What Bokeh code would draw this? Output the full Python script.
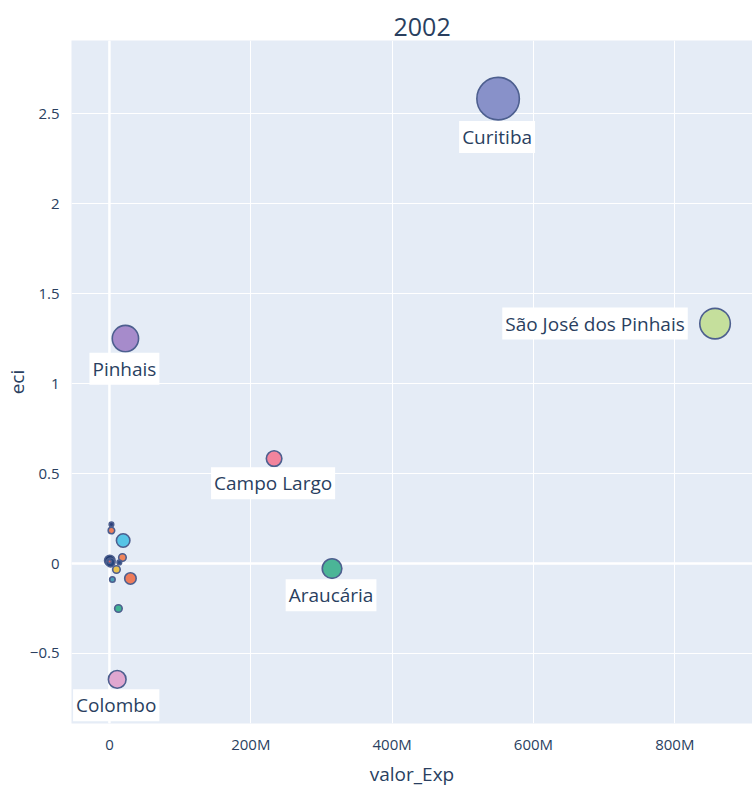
import math
from bokeh.plotting import figure
from bokeh.models import Range1d, FixedTicker, Span, Label, ColumnDataSource, Title
from bokeh.embed import file_html
from bokeh.resources import INLINE

# ---- data ----
municipios = ["Curitiba", "São José dos Pinhais", "Pinhais", "Araucária", "Colombo",
              "Campo Largo", "Almirante Tamandaré", "Fazenda Rio Grande", "Piraquara",
              "Quatro Barras", "Campina Grande do Sul", "Rio Branco do Sul", "Mandirituba",
              "Balsa Nova", "Contenda", "Bocaiúva do Sul", "Itaperuçu", "Lapa"]
valor_exp = [550e6, 857e6, 22.6e6, 315e6, 11e6,
             233e6, 19.4e6, 29.7e6, 0.5e6,
             18.4e6, 1.5e6, 9.9e6, 12.7e6,
             2.8e6, 4.2e6, 2.8e6, 0.3e6, 14e6]
eci = [2.583, 1.333, 1.25, -0.028, -0.644,
       0.583, 0.128, -0.083, 0.017,
       0.033, 0.006, -0.033, -0.25,
       0.183, -0.089, 0.217, 0.011, 0.006]
tamanho = [100, 53, 40, 23, 19,
           15, 11.6, 8.7, 7.4,
           4.2, 5.5, 4.2, 4.2,
           3.3, 2.5, 1.9, 1.3, 1.9]
cores = ["#8891c9", "#c5df9c", "#a68bcb", "#4bb597", "#e0a7d0",
         "#f2849d", "#56c4e6", "#ee7b5a", "#1f3a6e",
         "#ef855c", "#26457d", "#e8c24f", "#3fb394",
         "#ef7f5a", "#4a9fb5", "#2d3f7a", "#e06060", "#2b4b86"]
rotulos = ["Curitiba", "São José dos Pinhais", "Pinhais", "Araucária", "Colombo", "Campo Largo"]

x_ticks = [0, 200e6, 400e6, 600e6, 800e6]
x_tick_labels = ["0", "200M", "400M", "600M", "800M"]
y_ticks = [-0.5, 0, 0.5, 1, 1.5, 2, 2.5]
y_tick_labels = ["\u22120.5", "0", "0.5", "1", "1.5", "2", "2.5"]
titulo = "2002"

# ---- figure ----
FONT = "Open Sans"
TXT = "#2a3f5f"
MAX_D = 44.0
diam = [MAX_D * math.sqrt(t / max(tamanho)) - 1.5 for t in tamanho]

p = figure(width=752, height=789, output_backend="svg", toolbar_location=None,
           x_range=Range1d(-53.7e6, 910e6), y_range=Range1d(-0.889, 2.906),
           min_border_left=70, min_border_right=0, min_border_top=40, min_border_bottom=66)
p.background_fill_color = "#e5ecf6"
p.border_fill_color = "white"
p.outline_line_color = None

p.title = Title(text=titulo, align="left", offset=322, text_font=FONT, text_font_size="25px",
                text_color=TXT, text_font_style="normal")

for ax in (p.xaxis[0], p.yaxis[0]):
    ax.axis_line_color = None
    ax.major_tick_line_color = None
    ax.minor_tick_line_color = None
    ax.major_tick_out = 0
    ax.major_tick_in = 0
    ax.minor_tick_out = 0
    ax.minor_tick_in = 0
    ax.major_label_text_font = FONT
    ax.major_label_text_font_size = "15px"
    ax.major_label_text_color = TXT
    ax.axis_label_text_font = FONT
    ax.axis_label_text_font_size = "19px"
    ax.axis_label_text_color = TXT
    ax.axis_label_text_font_style = "normal"

p.xaxis.ticker = FixedTicker(ticks=x_ticks)
p.xaxis.major_label_overrides = {t: l for t, l in zip(x_ticks, x_tick_labels)}
p.yaxis.ticker = FixedTicker(ticks=y_ticks)
p.yaxis.major_label_overrides = {t: l for t, l in zip(y_ticks, y_tick_labels)}
p.xaxis.axis_label = "valor_Exp"
p.yaxis.axis_label = "eci"
p.xaxis.major_label_standoff = 10
p.xaxis.axis_label_standoff = 4
p.yaxis.major_label_standoff = 12
p.yaxis.axis_label_standoff = -3

p.xgrid.grid_line_color = "white"
p.ygrid.grid_line_color = "white"
p.xgrid.grid_line_width = 1
p.ygrid.grid_line_width = 1
p.add_layout(Span(location=0, dimension="height", line_color="white", line_width=2.5, level="underlay"))
p.add_layout(Span(location=0, dimension="width", line_color="white", line_width=2.5, level="underlay"))

src = ColumnDataSource(dict(x=valor_exp, y=eci, d=diam, c=cores, n=municipios))
p.scatter("x", "y", size="d", fill_color="c", fill_alpha=1.0, line_color="#4d5f8f",
          line_width=1.6, source=src)

for n, x, y, d in zip(municipios, valor_exp, eci, diam):
    if n not in rotulos:
        continue
    r = d / 2
    if n == "São José dos Pinhais":
        lab = Label(x=x, y=y, x_offset=-(r + 12), y_offset=0, text=n, text_align="right",
                    text_baseline="middle")
    else:
        lab = Label(x=x, y=y, x_offset=-1, y_offset=-(r + 17), text=n, text_align="center",
                    text_baseline="middle")
    lab.text_font = FONT
    lab.text_font_size = "19px"
    lab.text_color = TXT
    lab.background_fill_color = "white"
    lab.background_fill_alpha = 1.0
    lab.padding = 3
    p.add_layout(lab)

open("out.html", "w").write(file_html(p, INLINE))
